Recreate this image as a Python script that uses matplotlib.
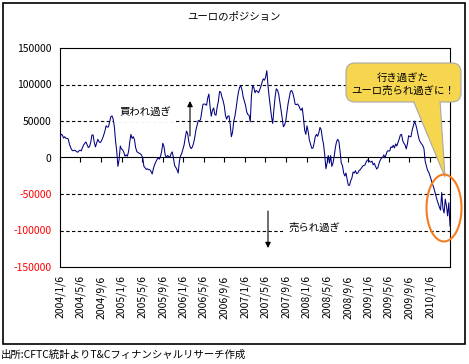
import numpy as np
import pandas as pd
import matplotlib
matplotlib.use("Agg")
import matplotlib.pyplot as plt
import matplotlib.dates as mdates
from matplotlib.patches import Rectangle, FancyBboxPatch, Polygon, Ellipse

plt.rcParams['font.family'] = ['Noto Sans CJK JP', 'DejaVu Sans']

title = "ユーロのポジション"
source = "出所:CFTC統計よりT&Cフィナンシャルリサーチ作成"
callout = "行き過ぎた\nユーロ売られ過ぎに！"
label_long = "買われ過ぎ"
label_short = "売られ過ぎ"
start_date = "2004-01-06"

# weekly euro net position (thousand contracts)
euro_net = [
    28.5, 31.7, 30.8, 26.7, 28.5, 26.2, 26.2, 25.3, 18.1, 13.6,
    10.4, 9.1, 10.0, 9.5, 8.1, 7.2, 9.1, 10.0, 9.1, 13.6,
    17.2, 19.5, 21.3, 17.2, 13.6, 14.9, 20.8, 30.8, 30.8, 20.8,
    14.5, 19.5, 24.9, 21.7, 20.4, 22.6, 26.2, 30.8, 36.2, 43.4,
    41.6, 42.1, 48.9, 55.7, 57.0, 52.5, 42.1, 22.6, 9.0, -12.2,
    -3.2, 15.8, 11.8, 10.4, 7.2, 1.8, 3.6, 1.8, 8.1, 20.8,
    31.7, 26.2, 28.5, 24.4, 13.6, 8.1, 6.8, 5.9, 5.0, 3.2,
    -0.5, -12.2, -14.0, -16.3, -15.4, -16.7, -16.7, -19.0, -22.6, -15.4,
    -10.0, -6.3, -3.2, 0.0, -2.3, 1.4, 8.1, 19.5, 14.9, 3.6,
    0.0, 2.7, 1.4, 0.0, 5.4, 7.7, -0.9, -10.9, -13.6, -16.7,
    -21.3, -5.4, 2.3, 5.4, 11.3, 17.2, 27.2, 36.2, 33.0, 21.7,
    14.9, 12.2, 14.5, 19.5, 27.2, 37.6, 44.3, 50.7, 49.8, 52.5,
    63.4, 72.9, 73.3, 72.9, 71.5, 81.5, 86.9, 69.2, 56.6, 64.7,
    67.9, 58.8, 57.9, 69.2, 76.9, 90.5, 89.6, 82.8, 77.8, 70.6,
    57.9, 52.5, 56.6, 57.0, 45.3, 28.5, 34.4, 49.8, 56.6, 67.0,
    79.6, 89.6, 96.4, 97.7, 92.8, 82.8, 76.9, 71.5, 62.4, 58.8,
    57.9, 48.9, 85.1, 98.6, 95.9, 88.7, 91.9, 90.5, 88.7, 93.2,
    97.3, 103.2, 107.7, 105.9, 110.0, 119.0, 98.6, 82.8, 69.2, 55.7,
    46.6, 66.1, 82.8, 94.1, 92.3, 87.3, 76.9, 65.6, 53.4, 42.1,
    44.3, 49.8, 61.5, 73.8, 81.9, 90.5, 91.9, 88.2, 81.5, 72.9,
    72.4, 73.3, 71.0, 67.0, 64.7, 67.9, 54.3, 37.6, 31.7, 43.4,
    35.3, 24.0, 18.1, 12.7, 12.7, 19.5, 28.5, 31.7, 29.0, 33.9,
    41.2, 38.0, 26.2, 18.1, 3.6, -15.4, -7.7, 2.7, -7.7, 2.7,
    -12.2, -7.7, 1.4, 13.6, 21.7, 24.9, 21.7, 8.1, -7.7, -10.9,
    -21.3, -25.3, -21.3, -30.3, -38.0, -38.0, -31.7, -28.1, -19.9, -21.3,
    -18.1, -22.2, -21.3, -18.1, -16.7, -14.5, -12.2, -10.9, -10.4, -6.3,
    -3.6, -3.2, -5.4, -6.3, -5.0, -10.0, -8.1, -12.2, -15.8, -13.6,
    -7.7, -3.6, -0.9, 0.0, 3.6, -0.5, 4.5, 9.0, 9.0, 9.0,
    14.5, 13.6, 16.7, 13.1, 18.6, 15.8, 20.4, 25.3, 30.8, 31.7,
    23.1, 19.5, 17.2, 11.8, 19.0, 29.9, 28.5, 28.5, 37.6, 43.4,
    49.8, 45.3, 38.9, 30.8, 24.0, 20.8, 18.6, 16.3, 11.8, -5.4,
    -11.3, -17.6, -20.0, -25.0, -30.0, -36.0, -40.0, -46.0, -52.0, -58.0,
    -63.0, -68.0, -72.0, -48.0, -70.0, -76.0, -57.0, -66.0, -80.0, -62.0,
    -94.0,
]

tick_dates = [
    "2004-01-06", "2004-05-06", "2004-09-06", "2005-01-06", "2005-05-06",
    "2005-09-06", "2006-01-06", "2006-05-06", "2006-09-06", "2007-01-06",
    "2007-05-06", "2007-09-06", "2008-01-06", "2008-05-06", "2008-09-06",
    "2009-01-06", "2009-05-06", "2009-09-06", "2010-01-06",
]
tick_labels = [
    "2004/1/6", "2004/5/6", "2004/9/6", "2005/1/6", "2005/5/6",
    "2005/9/6", "2006/1/6", "2006/5/6", "2006/9/6", "2007/1/6",
    "2007/5/6", "2007/9/6", "2008/1/6", "2008/5/6", "2008/9/6",
    "2009/1/6", "2009/5/6", "2009/9/6", "2010/1/6",
]
y_ticks = [-150000, -100000, -50000, 0, 50000, 100000, 150000]
grid_levels = [-100000, -50000, 50000, 100000]

dates = pd.date_range(start_date, periods=len(euro_net), freq="7D")
values = np.array(euro_net) * 1000
ticks = pd.to_datetime(tick_dates)

W, H = 469, 364
fig = plt.figure(figsize=(W / 100, H / 100), dpi=100)
fig.patch.set_facecolor("white")

ax = fig.add_axes([60 / W, 1 - 267 / H, 390 / W, 219 / H])
ax.plot(dates, values, color="#000080", lw=0.75, zorder=3)
for g in grid_levels:
    ax.axhline(g, color="black", lw=0.8, ls=(0, (3, 2.2)), zorder=1)

ax.set_xlim(dates[0], dates[-1])
ax.set_ylim(-150000, 150000)
ax.set_yticks(y_ticks)
ax.set_yticklabels([str(v) for v in y_ticks], fontsize=7.5)
for lab, v in zip(ax.get_yticklabels(), y_ticks):
    lab.set_color("#FF0000" if v < 0 else "black")
ax.tick_params(axis="y", length=0, pad=6)

ax.set_xticks(ticks)
ax.set_xticklabels(tick_labels, rotation=90, fontsize=7.5)
ax.tick_params(axis="x", length=0, pad=6)
for s in ax.spines.values():
    s.set_linewidth(0.8)
    s.set_color("black")

# category axis drawn through zero, ticks only
sec = ax.secondary_xaxis(0.5)
sec.set_xticks(mdates.date2num(ticks))
sec.set_xticklabels([])
sec.tick_params(direction="in", length=3.5, width=0.8, color="black")
sec.spines["top"].set_linewidth(0.8)

# overlay in pixel coordinates for the annotations
ov = fig.add_axes([0, 0, 1, 1], zorder=5)
ov.set_xlim(0, W)
ov.set_ylim(H, 0)
ov.axis("off")
ov.patch.set_alpha(0)

ov.add_patch(Rectangle((3, 3), 462, 341, fill=False, ec="black", lw=1.2))
ov.text(234, 17, title, ha="center", va="center", fontsize=7.5)
ov.text(1, 355, source, ha="left", va="center", fontsize=7.5)

ax.text(145, 112, label_long, transform=ov.transData, ha="center", va="center",
        fontsize=7.5, zorder=2,
        bbox=dict(boxstyle="square,pad=0.5", fc="white", ec="none"))
ax.text(314, 228, label_short, transform=ov.transData, ha="center", va="center",
        fontsize=7.5, zorder=2,
        bbox=dict(boxstyle="square,pad=0.5", fc="white", ec="none"))

arrow = dict(arrowstyle="-|>", color="black", lw=0.8, mutation_scale=8,
             shrinkA=0, shrinkB=0)
ov.annotate("", xy=(190, 101), xytext=(190, 136), arrowprops=arrow)
ov.annotate("", xy=(268, 248), xytext=(268, 211), arrowprops=arrow)

# callout bubble
yellow = "#F5D64E"
edge = "#A8A8A8"
ov.add_patch(Polygon([(413, 100), (440, 100), (445, 177)], closed=True,
                     fc=yellow, ec=edge, lw=0.8))
ov.add_patch(FancyBboxPatch((346, 63), 115, 39,
                            boxstyle="round,pad=0,rounding_size=9",
                            fc=yellow, ec=edge, lw=0.8))
ov.add_patch(Polygon([(414.5, 98), (439, 98), (439.3, 103), (414.8, 103)],
                     closed=True, fc=yellow, ec="none"))
ov.text(403, 84, callout, ha="center", va="center", fontsize=7.5,
        linespacing=1.3)

ov.add_patch(Ellipse((444, 208), 35, 67, fill=False, ec="#F57C1F", lw=1.5))

fig.savefig("out.png", dpi=100)
